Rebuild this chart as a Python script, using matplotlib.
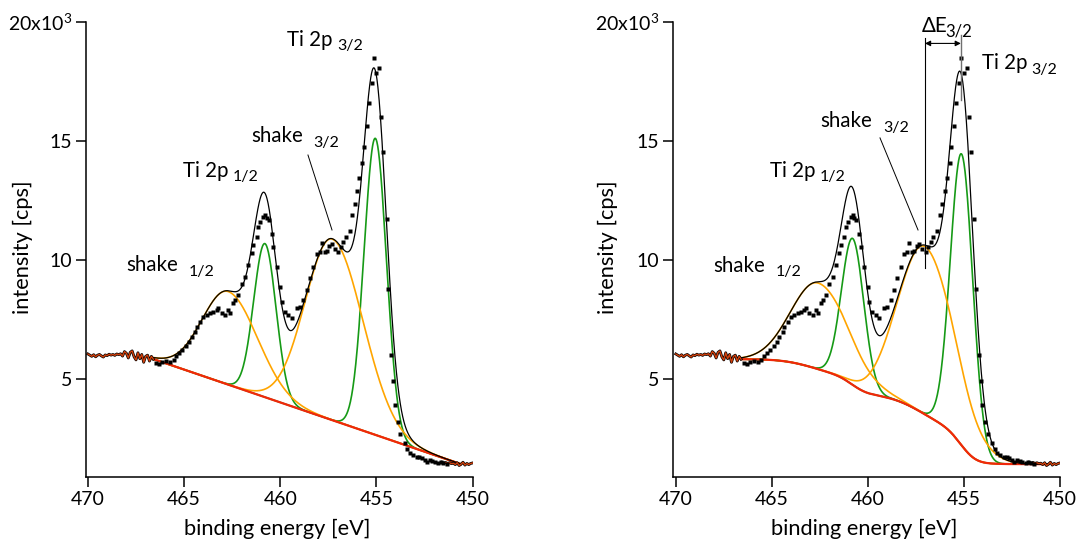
import numpy as np
import matplotlib
matplotlib.use("Agg")
import matplotlib.pyplot as plt

plt.rcParams['font.family'] = ['Lato', 'DejaVu Sans']
plt.rcParams['mathtext.fontset'] = 'custom'
plt.rcParams['mathtext.rm'] = 'Lato'
plt.rcParams['mathtext.default'] = 'regular'

# ---------------- data (intensity in 10^3 cps) ----------------
# measured points shown as squares
data_E = [466.46, 466.30, 466.15, 465.94, 465.74, 465.55, 465.40, 465.25, 465.10, 464.90,
          464.75, 464.61, 464.44, 464.35, 464.18, 464.00, 463.83, 463.66, 463.48, 463.31,
          463.22, 463.05, 462.88, 462.70, 462.62, 462.44, 462.36, 462.18, 462.00, 461.84,
          461.66, 461.49, 461.40, 461.23, 461.14, 461.06, 460.88, 460.80, 460.71, 460.60,
          460.45, 460.36, 460.19, 460.02, 459.93, 459.76, 459.58, 459.41, 459.15, 458.98,
          458.80, 458.63, 458.46, 458.28, 458.11, 457.94, 457.85, 457.68, 457.59, 457.45,
          457.33, 457.16, 456.98, 456.85, 456.72, 456.60, 456.38, 456.26, 456.12, 456.00,
          455.89, 455.75, 455.65, 455.51, 455.39, 455.25, 455.13, 455.01, 454.85, 454.76,
          454.64, 454.47, 454.38, 454.22, 454.12, 454.04, 453.90, 453.75, 453.52, 453.40,
          453.26, 453.10, 452.91, 452.78, 452.65, 452.50, 452.39, 452.22, 452.10, 451.96,
          451.78, 451.65, 451.52, 451.35]
data_I = [5.66, 5.62, 5.70, 5.76, 5.70, 5.78, 5.95, 6.08, 6.22, 6.40,
          6.55, 6.78, 6.99, 7.20, 7.41, 7.62, 7.69, 7.76, 7.83, 7.90,
          7.97, 7.76, 7.69, 7.90, 7.76, 8.18, 8.32, 8.53, 9.00, 9.30,
          9.79, 10.28, 10.63, 10.98, 11.40, 11.61, 11.82, 11.89, 11.75, 11.70,
          11.10, 10.56, 9.72, 8.88, 8.25, 7.83, 7.69, 7.55, 7.97, 8.04,
          8.32, 8.74, 9.25, 9.72, 10.25, 10.35, 10.70, 10.35, 10.39, 10.60,
          10.67, 10.45, 10.34, 10.55, 10.76, 10.95, 11.22, 11.89, 12.34, 12.90,
          13.46, 14.06, 14.73, 15.63, 16.58, 17.42, 18.47, 17.84, 18.05, 16.02,
          14.55, 11.71, 8.77, 6.00, 4.90, 3.91, 3.20, 2.70, 2.30, 2.05,
          1.88, 1.80, 1.74, 1.70, 1.67, 1.60, 1.52, 1.60, 1.55, 1.52,
          1.46, 1.50, 1.48, 1.42]

# raw spectrum outside the fit window (drawn as a line)
raw_hi_E = [470.0, 469.9, 469.8, 469.7, 469.6, 469.5, 469.4, 469.3, 469.2, 469.1,
            469.0, 468.9, 468.8, 468.7, 468.6, 468.5, 468.4, 468.3, 468.2, 468.1,
            468.0, 467.9, 467.8, 467.7, 467.6, 467.5, 467.4, 467.3, 467.2, 467.1,
            467.0, 466.9, 466.8, 466.7, 466.6]
raw_hi_I = [6.05, 6.00, 5.95, 6.02, 5.93, 6.00, 6.03, 5.97, 5.92, 6.01,
            5.98, 6.04, 6.00, 6.03, 5.99, 6.05, 6.02, 6.06, 5.96, 6.15,
            6.08, 5.88, 6.12, 6.18, 5.93, 5.80, 6.10, 5.85, 6.03, 5.70,
            5.95, 6.00, 5.75, 5.95, 5.83]
raw_lo_E = [451.6, 451.5, 451.4, 451.3, 451.2, 451.1, 451.0, 450.9, 450.8, 450.7,
            450.6, 450.5, 450.4, 450.3, 450.2, 450.1, 450.0]
raw_lo_I = [1.50, 1.47, 1.49, 1.45, 1.48, 1.44, 1.46, 1.40, 1.48, 1.36,
            1.42, 1.50, 1.38, 1.45, 1.40, 1.45, 1.47]

# fitted components (centre [eV], height [10^3 cps], widths [eV])
# left panel: linear background
L_main_c = [455.06, 460.80]
L_main_h = [12.46, 6.45]
L_main_w = [0.58, 0.58]
L_shake_c = [457.30, 462.70]
L_shake_h = [7.61, 3.91]
L_shake_wl = [1.40, 1.36]
L_shake_wr = [1.60, 1.52]
L_bg_E = [466.57, 450.60]
L_bg_I = [5.83, 1.42]
# right panel: Shirley background
R_main_c = [455.12, 460.79]
R_main_h = [12.24, 6.15]
R_main_w = [0.58, 0.58]
R_shake_c = [457.03, 462.58]
R_shake_h = [7.05, 3.62]
R_shake_wl = [1.40, 1.40]
R_shake_wr = [1.55, 1.60]
R_bg_I = [5.83, 1.42]

fit_range = [466.6, 450.6]

GREEN = '#169a16'
ORANGE = '#ffa500'
RED = '#f0280a'


def peak(E, c, h, wl, wr):
    s = np.where(E >= c, wl, wr)
    return h * np.exp(-0.5 * ((E - c) / s) ** 2)


E = np.linspace(fit_range[1], fit_range[0], 1500)


def components(mc, mh, mw, sc, sh, swl, swr):
    mains = [peak(E, c, h, w, w) for c, h, w in zip(mc, mh, mw)]
    shakes = [peak(E, c, h, wl, wr) for c, h, wl, wr in zip(sc, sh, swl, swr)]
    return mains, shakes


W, H = 1079, 551
fig = plt.figure(figsize=(W / 100, H / 100), dpi=100)
axL = fig.add_axes([86 / W, 1 - 477 / H, 387 / W, 455 / H])
axR = fig.add_axes([672.7 / W, 1 - 477 / H, 387.3 / W, 455 / H])

# left background (linear)
bgL = np.interp(E, L_bg_E[::-1], L_bg_I[::-1])
mL, sL = components(L_main_c, L_main_h, L_main_w, L_shake_c, L_shake_h, L_shake_wl, L_shake_wr)

# right background (Shirley, from component areas)
mR, sR = components(R_main_c, R_main_h, R_main_w, R_shake_c, R_shake_h, R_shake_wl, R_shake_wr)
P = sum(mR) + sum(sR)
cum = np.concatenate([[0], np.cumsum(0.5 * (P[1:] + P[:-1]) * np.diff(E))])
bgR = R_bg_I[1] + (R_bg_I[0] - R_bg_I[1]) * cum / cum[-1]

for ax, bg, mains, shakes in [(axL, bgL, mL, sL), (axR, bgR, mR, sR)]:
    for m in mains:
        ax.plot(E, bg + m, color=GREEN, lw=1.2, zorder=2)
    for s in shakes:
        ax.plot(E, bg + s, color=ORANGE, lw=1.2, zorder=3)
    ax.plot(E, bg, color=RED, lw=1.6, zorder=4)
    ax.plot(E, bg + sum(mains) + sum(shakes), color='black', lw=0.9, zorder=5)
    for rE, rI in [(raw_hi_E, raw_hi_I), (raw_lo_E, raw_lo_I)]:
        ax.plot(rE, rI, color='black', lw=2.0, zorder=5, solid_joinstyle='round')
        ax.plot(rE, rI, color='#d2400c', lw=1.0, zorder=6, solid_joinstyle='round')
    ax.plot(data_E, data_I, ls='none', marker='s', ms=2.4, mfc='black', mec='none', zorder=7)

    ax.set_ylim(0.88, 20.0)
    ax.set_yticks([5, 10, 15, 20])
    ax.set_yticklabels(['5', '10', '15', '20x10$^{3}$'])
    ax.set_xticks([470, 465, 460, 455, 450])
    for sp in ['top', 'right']:
        ax.spines[sp].set_visible(False)
    for sp in ['left', 'bottom']:
        ax.spines[sp].set_linewidth(1.1)
    ax.tick_params(direction='out', length=7, width=1.1, labelsize=14, pad=3)
    ax.set_xlabel('binding energy [eV]', fontsize=15.7)
    ax.set_ylabel('intensity [cps]', fontsize=15.7)
    ax.xaxis.set_label_coords(0.4935, -0.093)

axL.set_xlim(470.10, 449.98)
axR.set_xlim(470.16, 450.00)
axL.yaxis.set_label_coords(-0.137, 0.505)
axR.yaxis.set_label_coords(-0.141, 0.505)

fs, fss = 14.8, 11.5


def label(ax, main, sub, pm, ps):
    ax.text(pm[0], pm[1], main, fontsize=fs, ha='left', va='baseline')
    ax.text(ps[0], ps[1], sub, fontsize=fss, ha='left', va='baseline')


# left panel labels
label(axL, 'Ti 2p', '3/2', (459.65, 18.99), (457.05, 18.82))
label(axL, 'shake', '3/2', (461.52, 14.96), (458.30, 14.75))
label(axL, 'Ti 2p', '1/2', (465.06, 13.49), (462.45, 13.32))
label(axL, 'shake', '1/2', (468.02, 9.54), (464.75, 9.33))
axL.plot([458.56, 457.31], [14.41, 11.26], color='black', lw=0.7, zorder=8)

# right panel labels
label(axR, 'Ti 2p', '3/2', (454.05, 18.03), (451.51, 17.82))
label(axR, 'shake', '3/2', (462.49, 15.59), (459.21, 15.38))
label(axR, 'Ti 2p', '1/2', (465.09, 13.49), (462.49, 13.32))
label(axR, 'shake', '1/2', (468.06, 9.50), (464.78, 9.33))
axR.plot([459.37, 457.39], [15.13, 11.26], color='black', lw=0.7, zorder=8)

# Delta E annotation
axR.plot([R_shake_c[0], R_shake_c[0]], [9.66, 19.33], color='black', lw=0.8, zorder=8)
axR.plot([455.16, 455.16], [16.72, 19.45], color='#707070', lw=1.0, zorder=8)
axR.annotate('', xy=(R_shake_c[0], 19.10), xytext=(455.16, 19.10),
             arrowprops=dict(arrowstyle='<|-|>', color='black', lw=0.8,
                             mutation_scale=8, shrinkA=0, shrinkB=0), zorder=8)
axR.text(457.20, 19.58, '\u0394E', fontsize=fs, ha='left', va='baseline')
axR.text(455.99, 19.41, '3/2', fontsize=fss + 0.5, ha='left', va='baseline')

fig.savefig('out.png', dpi=100)
